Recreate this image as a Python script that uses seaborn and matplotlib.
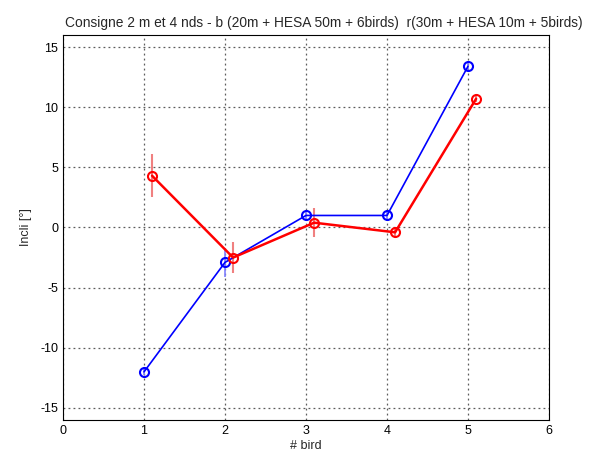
import matplotlib
matplotlib.use("Agg")
import matplotlib.pyplot as plt
import seaborn as sns
import pandas as pd

sns.set_style("white")
plt.rcParams['font.family'] = ['Liberation Sans', 'DejaVu Sans']
plt.rcParams['axes.unicode_minus'] = False

bird_b = [1, 2, 3, 4, 5]
incli_b = [-12.0, -2.9, 1.0, 1.0, 13.4]
err_b = [0.3, 1.2, 0.3, 0.3, 0.3]

bird_r = [1.1, 2.1, 3.1, 4.1, 5.1]
incli_r = [4.3, -2.5, 0.4, -0.4, 10.7]
err_r = [1.8, 1.3, 1.2, 0.3, 0.3]

df_b = pd.DataFrame({"bird": bird_b, "incli": incli_b})
df_r = pd.DataFrame({"bird": bird_r, "incli": incli_r})

fig = plt.figure(figsize=(5.91, 4.59), dpi=100)
ax = fig.add_axes([63/591, 1-420/459, 486/591, 385/459])

ax.errorbar(bird_b, incli_b, yerr=err_b, fmt='none', ecolor='#8080ff', elinewidth=1.2, zorder=2)
ax.errorbar(bird_r, incli_r, yerr=err_r, fmt='none', ecolor='#f08080', elinewidth=1.5, zorder=2)
sns.lineplot(data=df_b, x="bird", y="incli", ax=ax, color='#0000ff', linewidth=1.2,
             marker='o', markersize=6.5, markerfacecolor='none', markeredgecolor='#0000ff',
             markeredgewidth=1.5, zorder=3)
sns.lineplot(data=df_r, x="bird", y="incli", ax=ax, color='#ff0000', linewidth=1.8,
             marker='o', markersize=6.5, markerfacecolor='none', markeredgecolor='#ff0000',
             markeredgewidth=1.5, zorder=4)

ax.set_xlim(0, 6)
ax.set_ylim(-16, 16)
ax.set_xticks([0, 1, 2, 3, 4, 5, 6])
ax.set_yticks([-15, -10, -5, 0, 5, 10, 15])
ax.grid(True, color='#333333', linestyle=(0, (1.5, 2.5)), linewidth=0.9, alpha=0.8)
for s in ax.spines.values():
    s.set_color('black')
    s.set_linewidth(0.8)
ax.tick_params(direction='in', length=4, labelsize=9, colors='black')
ax.set_xlabel('# bird', fontsize=9, labelpad=2)
ax.set_ylabel('Incli [°]', fontsize=9, labelpad=6)
ax.set_title('Consigne 2 m et 4 nds - b (20m + HESA 50m + 6birds)  r(30m + HESA 10m + 5birds)',
             fontsize=9.9, pad=6, x=0.537)

fig.savefig('out.png', dpi=100)
